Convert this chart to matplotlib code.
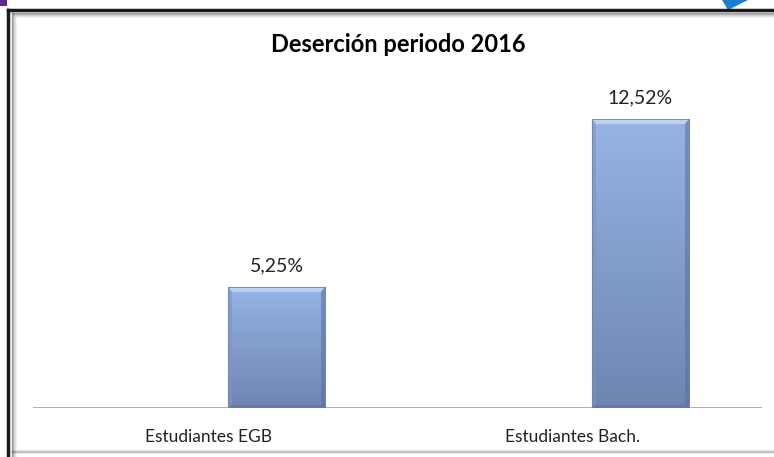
import numpy as np
import matplotlib
matplotlib.use("Agg")
import matplotlib.pyplot as plt
from matplotlib.patches import Polygon
from matplotlib.lines import Line2D

# Data
categories = ["Estudiantes EGB", "Estudiantes Bach."]
values = [5.25, 12.52]
value_labels = ["5,25%", "12,52%"]
title = "Deserción periodo 2016"

W, H = 774, 457
plt.rcParams['font.family'] = ['Lato', 'DejaVu Sans']

fig = plt.figure(figsize=(W / 100, H / 100), dpi=100)
fig.patch.set_facecolor('white')


def fx(px):
    return px / W


def fy(py):
    return 1 - py / H


# plot area (baseline at y=408, from x=33 to x=762)
ax = fig.add_axes([fx(33), fy(408), fx(762) - fx(33), fy(60) - fy(408)])
ax.set_xlim(-0.669, 1.334)
ax.set_ylim(0, 15.08)
ax.axis('off')

x = np.arange(len(categories))
bar_w = 0.267
bars = ax.bar(x, values, width=bar_w, color='none', edgecolor='none')

# vertical gradient for the bars
top_c = np.array([0x96, 0xb4, 0xe6]) / 255
bot_c = np.array([0x6e, 0x85, 0xb0]) / 255
grad = np.linspace(0, 1, 256)[:, None]
img = top_c[None, None, :] * (1 - grad[..., None]) + bot_c[None, None, :] * grad[..., None]

px_x = 364.0  # px per x unit
px_y = 348.0 / 15.08  # px per y unit
bev_x = 4 / px_x
bev_y = 5 / px_y

for b in bars:
    x0, w, h = b.get_x(), b.get_width(), b.get_height()
    im = ax.imshow(img, extent=[x0, x0 + w, 0, h], aspect='auto', zorder=2)
    im.set_clip_path(b)
    # bevel edges
    ax.add_patch(Polygon([[x0, h], [x0 + w, h], [x0 + w - bev_x, h - bev_y], [x0 + bev_x, h - bev_y]],
                         closed=True, facecolor='#bcd0f0', edgecolor='none', zorder=3))
    ax.add_patch(Polygon([[x0, 0], [x0, h], [x0 + bev_x, h - bev_y], [x0 + bev_x, bev_y * 0.6]],
                         closed=True, facecolor='#7c93c0', edgecolor='none', alpha=0.6, zorder=3))
    ax.add_patch(Polygon([[x0 + w, 0], [x0 + w, h], [x0 + w - bev_x, h - bev_y], [x0 + w - bev_x, bev_y * 0.6]],
                         closed=True, facecolor='#5d729c', edgecolor='none', alpha=0.6, zorder=3))
    ax.add_patch(Polygon([[x0, 0], [x0 + w, 0], [x0 + w - bev_x, bev_y * 0.6], [x0 + bev_x, bev_y * 0.6]],
                         closed=True, facecolor='#5d729c', edgecolor='none', alpha=0.5, zorder=3))
    ax.plot([x0, x0 + w, x0 + w, x0, x0], [0, 0, h, h, 0], color='#6f84ad', lw=0.6, zorder=4)

for xi, v, lab in zip(x, values, value_labels):
    ax.annotate(lab, (xi, v), xytext=(0, 9), textcoords='offset points',
                ha='center', va='bottom', fontsize=14, color='#222222')

# baseline
ax.axhline(0, color='#a0a0a0', lw=1.2, zorder=1)

# category labels sit left of the bars
for xi, cat in zip(x, categories):
    ax.annotate(cat, (xi - 0.187, 0), xytext=(0, -21), textcoords='offset points',
                ha='center', va='center', fontsize=12.5, color='#222222')

fig.text(fx(398), fy(45), title, ha='center', va='center', fontsize=17,
         fontweight='bold', color='black')

# frame with inner shadow
for i, a in enumerate([0.35, 0.22, 0.13, 0.07, 0.03]):
    d = 3 + i
    fig.add_artist(Line2D([fx(9 + d), fx(W)], [fy(10 + d), fy(10 + d)], color='black', alpha=a, lw=1))
    fig.add_artist(Line2D([fx(9 + d), fx(9 + d)], [fy(10 + d), 0], color='black', alpha=a, lw=1))
fig.add_artist(Line2D([fx(8), fx(W)], [fy(10), fy(10)], color='#1a1a1a', lw=2.5))
fig.add_artist(Line2D([fx(8), fx(8)], [fy(10), 0], color='#1a1a1a', lw=2.5))
for i, a in enumerate([0.25, 0.15, 0.08]):
    fig.add_artist(Line2D([fx(12), fx(W)], [fy(452 - i), fy(452 - i)], color='black', alpha=a, lw=1))

# decorations in the corners
fig.add_artist(Polygon([[0, 1], [fx(7), 1], [fx(7), fy(6)], [0, fy(6)]], closed=True,
                       facecolor='#5b2a86', edgecolor='none', transform=fig.transFigure))
fig.add_artist(Polygon([[fx(722), 1], [fx(748), 1], [fx(728), fy(10)]], closed=True,
                       facecolor='#1a7fd4', edgecolor='none', transform=fig.transFigure))

fig.savefig('out.png', dpi=100)
